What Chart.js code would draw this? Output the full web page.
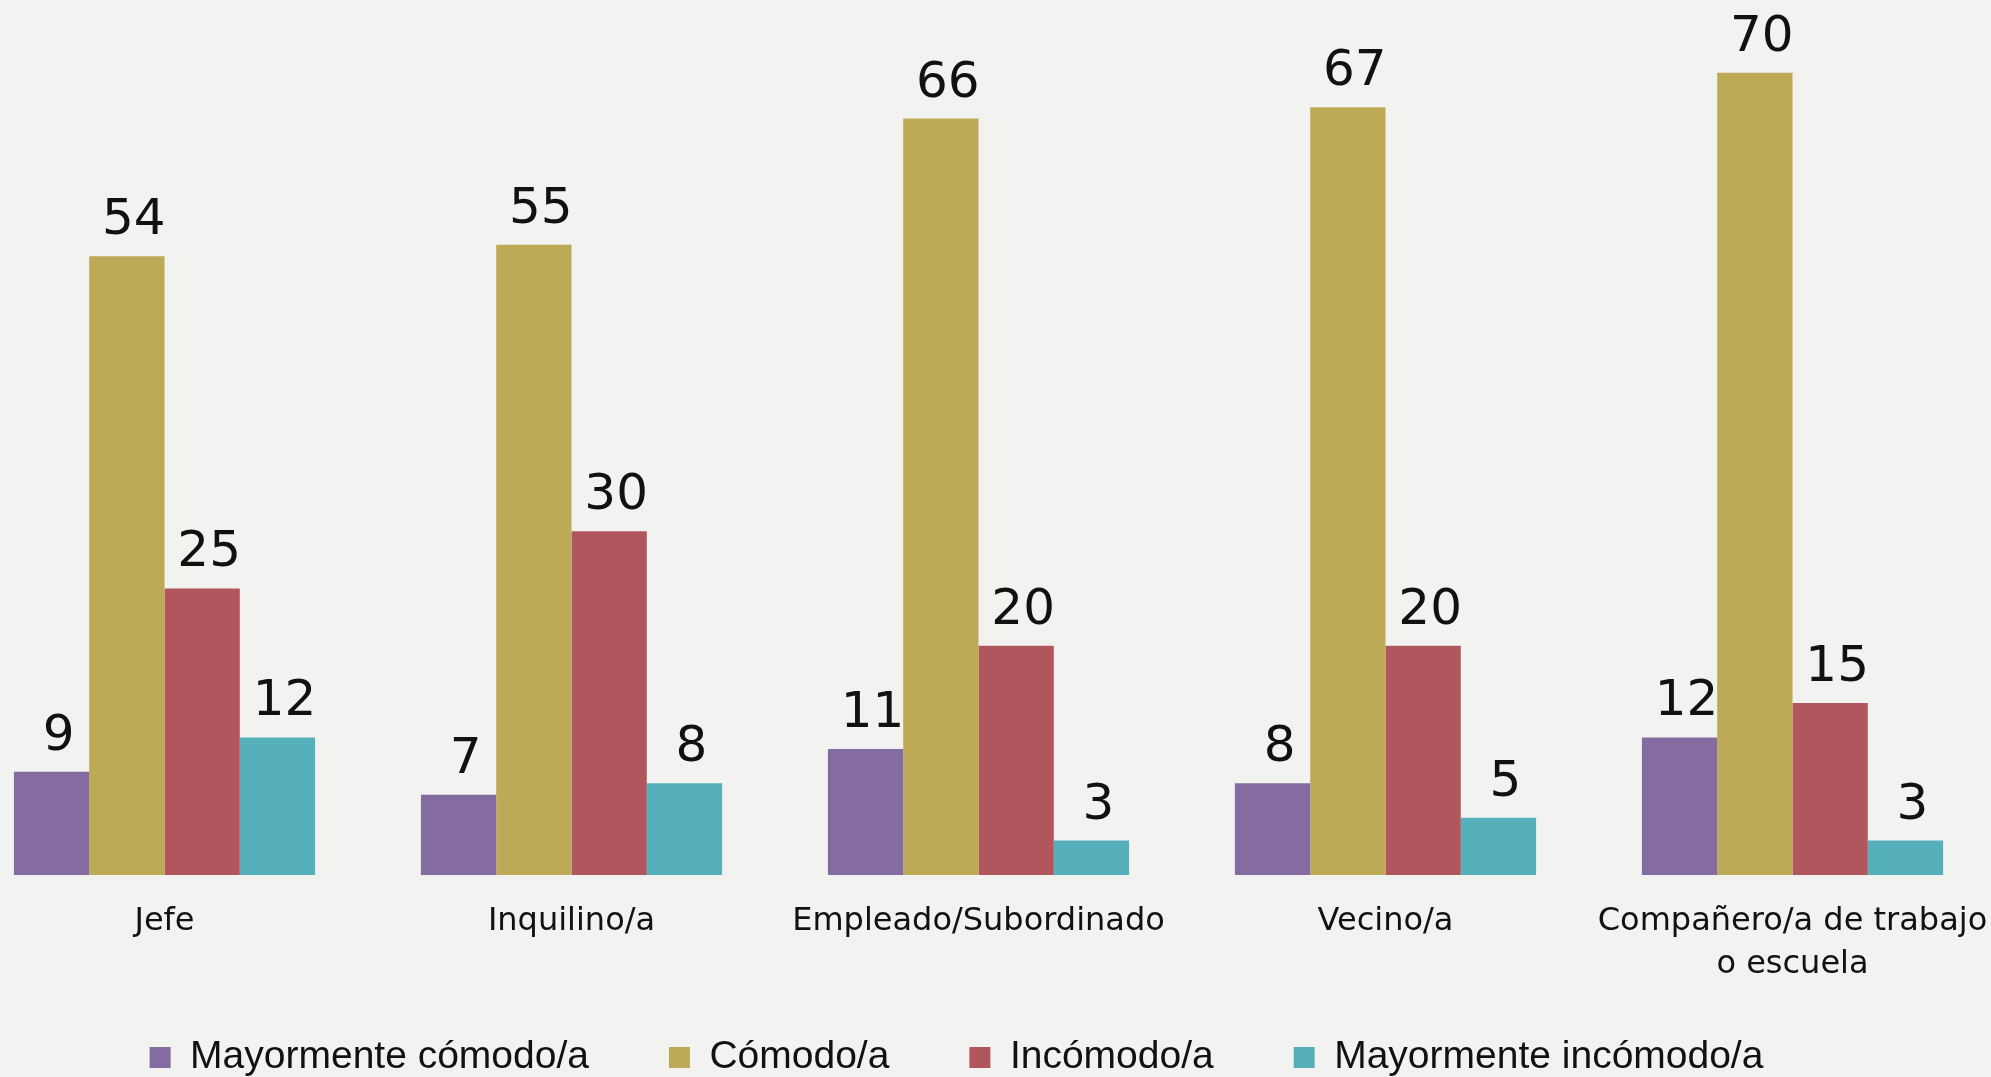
<!DOCTYPE html>
<html lang="es">
<head>
<meta charset="utf-8">
<title>Comodidad según relación</title>
<script src="https://cdn.jsdelivr.net/npm/chart.js@4"></script>
<style>
  html, body { margin: 0; padding: 0; background: #f2f2f0; overflow: hidden; }
  #wrap { position: absolute; left: -39px; top: 0; width: 2035px; height: 1119px; }
</style>
</head>
<body>
<div id="wrap"><canvas id="chart" width="2035" height="1119"></canvas></div>
<script>
const categories = ['Jefe', 'Inquilino/a', 'Empleado/Subordinado', 'Vecino/a', ['Compañero/a de trabajo', 'o escuela']];
const seriesNames = ['Mayormente cómodo/a', 'Cómodo/a', 'Incómodo/a', 'Mayormente incómodo/a'];
const mayormenteComodo = [9, 7, 11, 8, 12];
const comodo = [54, 55, 66, 67, 70];
const incomodo = [25, 30, 20, 20, 15];
const mayormenteIncomodo = [12, 8, 3, 5, 3];
const colors = ['#856ca0', '#bdaa56', '#af575d', '#56b0bc'];

const values = [mayormenteComodo, comodo, incomodo, mayormenteIncomodo];

// number above every bar
const barLabels = {
  id: 'barLabels',
  afterDatasetsDraw(chart) {
    const ctx = chart.ctx;
    ctx.save();
    ctx.font = '50px "DejaVu Sans"';
    ctx.fillStyle = '#111';
    ctx.textAlign = 'center';
    ctx.textBaseline = 'alphabetic';
    chart.data.datasets.forEach((ds, i) => {
      chart.getDatasetMeta(i).data.forEach((bar, j) => {
        ctx.fillText(String(ds.data[j]), bar.x + 7, bar.y - 22);
      });
    });
    ctx.restore();
  }
};

// pull the legend row up under the axis labels and a bit to the left
const legendShift = {
  id: 'legendShift',
  afterLayout(chart) {
    if (!chart.legend) return;
    chart.legend.left -= 44;
    chart.legend.top -= 32;
  }
};

new Chart(document.getElementById('chart'), {
  type: 'bar',
  data: {
    labels: categories,
    datasets: seriesNames.map((name, i) => ({
      label: name,
      data: values[i],
      backgroundColor: colors[i],
      borderWidth: 0,
      barPercentage: 1,
      categoryPercentage: 0.74
    }))
  },
  options: {
    responsive: false,
    devicePixelRatio: 1,
    animation: false,
    layout: { padding: { top: 4, left: 0, right: 0, bottom: 0 } },
    scales: {
      x: {
        grid: { display: false, drawTicks: true, tickLength: 25.5 },
        border: { display: false },
        ticks: {
          color: '#111',
          padding: 0,
          maxRotation: 0,
          minRotation: 0,
          autoSkip: false,
          font: { family: '"DejaVu Sans"', size: 32, lineHeight: 1.344 }
        },
        afterFit(scale) { scale.height = 115; }
      },
      y: {
        display: false,
        min: 0,
        max: 76
      }
    },
    plugins: {
      legend: {
        position: 'bottom',
        labels: {
          boxWidth: 21,
          boxHeight: 21,
          padding: 80,
          color: '#111',
          font: { family: '"Liberation Sans"', size: 39, lineHeight: 1 }
        }
      },
      tooltip: { enabled: false }
    }
  },
  plugins: [barLabels, legendShift]
});
</script>
</body>
</html>
